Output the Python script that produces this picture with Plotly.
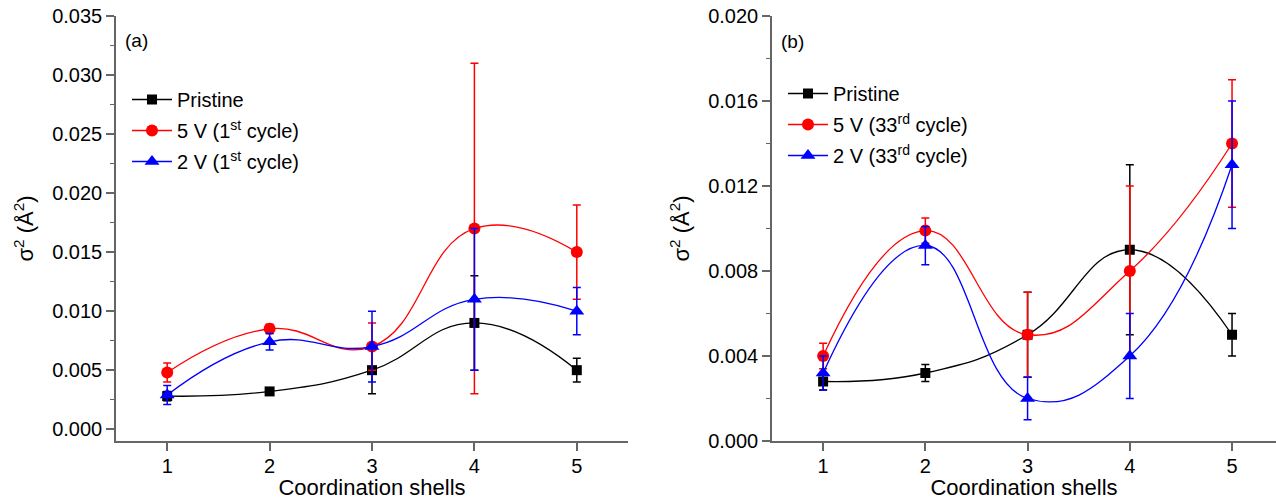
import plotly.graph_objects as go

# Coordination shells (x positions shared by both panels)
shells = [1, 2, 3, 4, 5]

# Panel (a): first cycle
a_pristine = [0.0028, 0.0032, 0.005, 0.009, 0.005]
a_pristine_err = [0.0004, 0.0003, 0.002, 0.004, 0.001]
a_5v = [0.0048, 0.0085, 0.007, 0.017, 0.015]
a_5v_err = [0.0008, 0.0004, 0.002, 0.014, 0.004]
a_2v = [0.0029, 0.0074, 0.007, 0.011, 0.010]
a_2v_err = [0.0008, 0.0007, 0.003, 0.006, 0.002]

# Panel (b): 33rd cycle
b_pristine = [0.0028, 0.0032, 0.005, 0.009, 0.005]
b_pristine_err = [0.0004, 0.0004, 0.002, 0.004, 0.001]
b_5v = [0.004, 0.0099, 0.005, 0.008, 0.014]
b_5v_err = [0.0006, 0.0006, 0.002, 0.004, 0.003]
b_2v = [0.0032, 0.0092, 0.002, 0.004, 0.013]
b_2v_err = [0.0008, 0.0009, 0.001, 0.002, 0.003]

names_a = ["Pristine", "5 V (1<sup>st</sup> cycle)", "2 V (1<sup>st</sup> cycle)"]
names_b = ["Pristine", "5 V (33<sup>rd</sup> cycle)", "2 V (33<sup>rd</sup> cycle)"]

FONT = "Liberation Sans, Arial, sans-serif"
AXIS_COLOR = "#666666"
W, H = 1276, 500
M_T, M_B = 16, 59
PLOT_H = H - M_T - M_B

styles = [
    dict(color="black", symbol="square", size=10),
    dict(color="red", symbol="circle", size=12),
    dict(color="blue", symbol="triangle-up", size=13),
]

fig = go.Figure()


def add_series(xref, yref, legend, names, values, errors, tag):
    for i, (name, vals, errs, st) in enumerate(zip(names, values, errors, styles)):
        fig.add_trace(go.Scatter(
            x=shells, y=vals, name=name, mode="lines+markers",
            xaxis=xref, yaxis=yref, legend=legend, legendgroup=f"{tag}{i}",
            line=dict(color=st["color"], width=1.3, shape="spline", smoothing=1.3),
            marker=dict(color=st["color"], symbol=st["symbol"], size=st["size"]),
            error_y=dict(type="data", array=errs, visible=True,
                         color=st["color"], thickness=1.5, width=4),
        ))


add_series("x", "y", "legend", names_a,
           [a_pristine, a_5v, a_2v], [a_pristine_err, a_5v_err, a_2v_err], "a")
add_series("x2", "y2", "legend2", names_b,
           [b_pristine, b_5v, b_2v], [b_pristine_err, b_5v_err, b_2v_err], "b")

tick_font = dict(family=FONT, size=20, color="black")
title_font = dict(family=FONT, size=22, color="black")
legend_font = dict(family=FONT, size=20, color="black")

common_x = dict(
    tickvals=shells, ticks="outside", ticklen=8, tickwidth=1.5, tickcolor=AXIS_COLOR,
    showline=True, linecolor=AXIS_COLOR, linewidth=1.5, showgrid=False, zeroline=False,
    tickfont=tick_font, ticklabelstandoff=-2,
)
common_y = dict(
    ticks="outside", ticklen=8, tickwidth=1.5, tickcolor=AXIS_COLOR,
    showline=True, linecolor=AXIS_COLOR, linewidth=1.5, showgrid=False, zeroline=False,
    tickfont=tick_font, tickformat=".3f",
)
mirror_x = dict(
    tickvals=shells, ticks="inside", ticklen=5, tickwidth=1.5, tickcolor=AXIS_COLOR,
    showline=True, linecolor=AXIS_COLOR, linewidth=1.5, showgrid=False, zeroline=False,
    showticklabels=False, side="top",
)

xa_dom = [116 / W, 628 / W]
xb_dom = [772 / W, 1.0]
ytitle = dict(text="σ<sup>2</sup> (Å<sup>2</sup>)", font=title_font, standoff=12)
xtitle = dict(text="Coordination shells", font=title_font, standoff=6)

fig.update_layout(
    width=W, height=H,
    margin=dict(l=0, r=0, t=M_T, b=M_B),
    paper_bgcolor="white", plot_bgcolor="white",
    font=dict(family=FONT, color="black"),
    xaxis=dict(domain=xa_dom, range=[0.5, 5.5], anchor="y", title=xtitle, **common_x),
    yaxis=dict(domain=[0, 1], range=[-0.001, 0.035], anchor="x", dtick=0.005, tick0=0,
               minor=dict(dtick=0.0025, tick0=0, ticks="outside", ticklen=4,
                          tickcolor=AXIS_COLOR, tickwidth=1.2),
               title=ytitle, **common_y),
    xaxis3=dict(overlaying="x", anchor="y", range=[0.5, 5.5], **mirror_x),
    yaxis3=dict(overlaying="y", anchor="x", side="right", range=[-0.001, 0.035],
                dtick=0.005, tick0=0, ticks="inside", ticklen=8, tickwidth=1.5,
                tickcolor=AXIS_COLOR, showline=True, linecolor=AXIS_COLOR, linewidth=1.5,
                showgrid=False, zeroline=False, showticklabels=False,
                minor=dict(dtick=0.0025, tick0=0, ticks="inside", ticklen=4,
                           tickcolor=AXIS_COLOR, tickwidth=1.2)),
    xaxis2=dict(domain=xb_dom, range=[0.5, 5.43], anchor="y2", title=xtitle, **common_x),
    yaxis2=dict(domain=[0, 1], range=[0, 0.020], anchor="x2", dtick=0.004, tick0=0,
                minor=dict(dtick=0.002, tick0=0, ticks="outside", ticklen=4,
                           tickcolor=AXIS_COLOR, tickwidth=1.2),
                title=ytitle, **common_y),
    xaxis4=dict(overlaying="x2", anchor="y2", range=[0.5, 5.43], **mirror_x),
    legend=dict(x=127 / W, y=(H - M_B - 80) / PLOT_H, xanchor="left", yanchor="top",
                font=legend_font, bgcolor="rgba(0,0,0,0)", tracegroupgap=2, itemwidth=40),
    legend2=dict(x=783 / W, y=(H - M_B - 74) / PLOT_H, xanchor="left", yanchor="top",
                 font=legend_font, bgcolor="rgba(0,0,0,0)", tracegroupgap=2, itemwidth=40),
    showlegend=True,
    annotations=[
        dict(text="(a)", x=xa_dom[0] + 7 / W, y=(H - M_B - 40) / PLOT_H, xref="paper",
             yref="paper", xanchor="left", yanchor="middle", showarrow=False,
             font=dict(family=FONT, size=19, color="black")),
        dict(text="(b)", x=xb_dom[0] + 7 / W, y=(H - M_B - 42) / PLOT_H, xref="paper",
             yref="paper", xanchor="left", yanchor="middle", showarrow=False,
             font=dict(family=FONT, size=19, color="black")),
    ],
)

fig.write_html("out.html")
